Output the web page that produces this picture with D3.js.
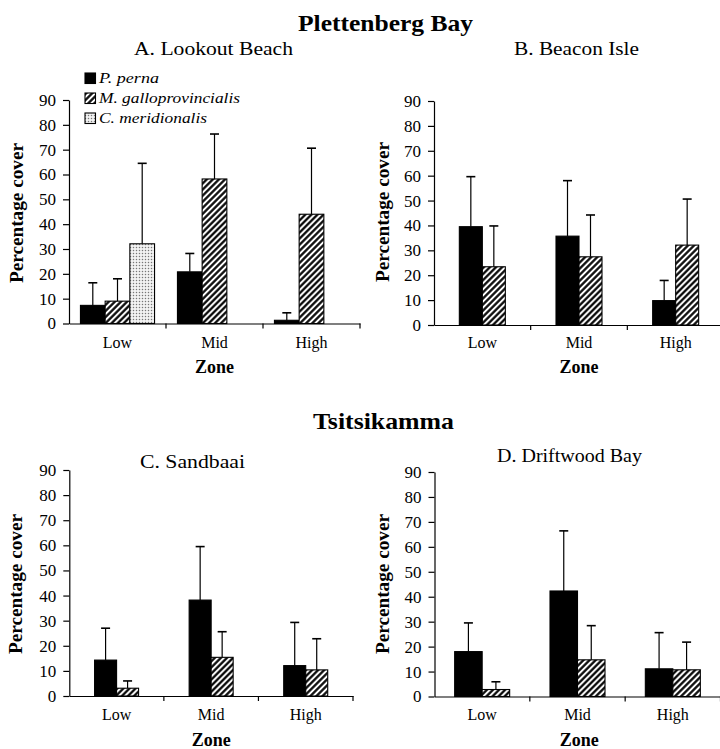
<!DOCTYPE html>
<html><head><meta charset="utf-8">
<script src="https://cdn.jsdelivr.net/npm/d3@7"></script>
<style>
body{margin:0;background:#fff}
svg text{font-family:"Liberation Serif","Times New Roman",serif;fill:#000}
</style>
</head><body><svg id="c" width="720" height="749"></svg>
<script>
// ---------- data ----------
const zones = ["Low", "Mid", "High"];
const species = ["P. perna", "M. galloprovincialis", "C. meridionalis"];
const yTicks = [0, 10, 20, 30, 40, 50, 60, 70, 80, 90];
const regionTitles = ["Plettenberg Bay", "Tsitsikamma"];
const panelTitles = ["A. Lookout Beach", "B. Beacon Isle", "C. Sandbaai", "D. Driftwood Bay"];
const xTitle = "Zone";
const yTitle = "Percentage cover";

// means and (upper) error bars, per zone Low/Mid/High
const lookoutPerna = [7.3, 20.8, 1.3];
const lookoutPernaErr = [9.1, 7.4, 3.0];
const lookoutGallo = [9.0, 58.2, 44.0];
const lookoutGalloErr = [9.0, 18.1, 26.6];
const lookoutMerid = [32.1, 0, 0];
const lookoutMeridErr = [32.4, 0, 0];

const beaconPerna = [39.5, 35.7, 9.8];
const beaconPernaErr = [20.1, 22.3, 8.1];
const beaconGallo = [23.4, 27.4, 32.1];
const beaconGalloErr = [16.4, 16.8, 18.5];

const sandbaaiPerna = [14.3, 38.2, 12.1];
const sandbaaiPernaErr = [12.7, 21.3, 17.2];
const sandbaaiGallo = [3.1, 15.4, 10.4];
const sandbaaiGalloErr = [2.9, 10.2, 12.4];

const driftwoodPerna = [18.0, 42.3, 11.1];
const driftwoodPernaErr = [11.5, 24.1, 14.5];
const driftwoodGallo = [2.8, 14.7, 10.7];
const driftwoodGalloErr = [3.1, 13.7, 11.1];

// ---------- layout ----------
const svg = d3.select("#c");
const defs = svg.append("defs");
const hatch = defs.append("pattern").attr("id", "hatch").attr("patternUnits", "userSpaceOnUse")
  .attr("width", 4.3).attr("height", 4.3).attr("patternTransform", "rotate(45)");
hatch.append("rect").attr("width", 4.3).attr("height", 4.3).attr("fill", "#fff");
hatch.append("line").attr("x1", 2.15).attr("x2", 2.15).attr("y1", 0).attr("y2", 4.3)
  .attr("stroke", "#000").attr("stroke-width", 2.2);
const dots = defs.append("pattern").attr("id", "dots").attr("patternUnits", "userSpaceOnUse")
  .attr("width", 3).attr("height", 3);
dots.append("rect").attr("width", 3).attr("height", 3).attr("fill", "#f2f2f2");
dots.append("circle").attr("cx", 1.5).attr("cy", 1.5).attr("r", 0.75).attr("fill", "#777");

const fills = ["#000", "url(#hatch)", "url(#dots)"];

function fit(sel, w) {
  sel.attr("textLength", w).attr("lengthAdjust", "spacingAndGlyphs");
  return sel;
}

const panels = [
  { title: panelTitles[0], series: [[lookoutPerna, lookoutPernaErr], [lookoutGallo, lookoutGalloErr], [lookoutMerid, lookoutMeridErr]],
    x0: 69, x1: 360, yTop: 100, yBot: 323.5, barW: 24.7, tx: 213.5, ty: 55, tw: 159, ylx: 23, yly: 213, lowY: 348, zoneY: 373 },
  { title: panelTitles[1], series: [[beaconPerna, beaconPernaErr], [beaconGallo, beaconGalloErr]],
    x0: 434, x1: 724, yTop: 101, yBot: 325, barW: 23, tx: 576.5, ty: 55, tw: 125, ylx: 389, yly: 212, lowY: 348, zoneY: 373 },
  { title: panelTitles[2], series: [[sandbaaiPerna, sandbaaiPernaErr], [sandbaaiGallo, sandbaaiGalloErr]],
    x0: 69.3, x1: 353, yTop: 470, yBot: 696, barW: 22, tx: 192.5, ty: 468, tw: 105, ylx: 22, yly: 584, lowY: 720, zoneY: 746 },
  { title: panelTitles[3], series: [[driftwoodPerna, driftwoodPernaErr], [driftwoodGallo, driftwoodGalloErr]],
    x0: 434.5, x1: 720.5, yTop: 472, yBot: 696.5, barW: 27.5, tx: 569.5, ty: 462, tw: 145, ylx: 389, yly: 584, lowY: 720, zoneY: 746 }
];

// region titles
fit(svg.append("text").attr("x", 385.5).attr("y", 31).attr("text-anchor", "middle")
  .style("font-size", "24px").style("font-weight", "bold").text(regionTitles[0]), 175);
fit(svg.append("text").attr("x", 383.5).attr("y", 429).attr("text-anchor", "middle")
  .style("font-size", "24px").style("font-weight", "bold").text(regionTitles[1]), 141);

panels.forEach(p => {
  const g = svg.append("g");
  const x = d3.scaleBand().domain(zones).range([p.x0, p.x1]).padding(0);
  const n = p.series.length;
  const xs = d3.scaleBand().domain(species.slice(0, n)).range([-n * p.barW / 2, n * p.barW / 2]).padding(0);
  const y = d3.scaleLinear().domain([0, 90]).range([p.yBot, p.yTop]);

  // title
  fit(g.append("text").attr("x", p.tx).attr("y", p.ty).attr("text-anchor", "middle")
    .style("font-size", "18.6px").text(p.title), p.tw);

  // bars
  p.series.forEach((s, si) => {
    const name = species[si];
    const rows = zones.map((z, i) => ({ z, v: s[0][i], e: s[1][i] }));
    g.selectAll(null).data(rows).enter().append("rect")
      .attr("x", d => x(d.z) + x.bandwidth() / 2 + xs(name))
      .attr("width", xs.bandwidth())
      .attr("y", d => y(d.v))
      .attr("height", d => y(0) - y(d.v))
      .attr("fill", fills[si]).attr("stroke", "#000").attr("stroke-width", 1.1);
    const eb = rows.filter(d => d.e > 0);
    const cx = d => x(d.z) + x.bandwidth() / 2 + xs(name) + xs.bandwidth() / 2;
    g.selectAll(null).data(eb).enter().append("line")
      .attr("x1", cx).attr("x2", cx)
      .attr("y1", d => y(d.v)).attr("y2", d => y(d.v + d.e))
      .attr("stroke", "#000").attr("stroke-width", 1.2);
    g.selectAll(null).data(eb).enter().append("line")
      .attr("x1", d => cx(d) - 4.5).attr("x2", d => cx(d) + 4.5)
      .attr("y1", d => y(d.v + d.e)).attr("y2", d => y(d.v + d.e))
      .attr("stroke", "#000").attr("stroke-width", 1.6);
  });

  // y axis
  const ya = g.append("g").attr("transform", `translate(${p.x0},0)`)
    .call(d3.axisLeft(y).tickValues(yTicks).tickSize(6).tickPadding(7).tickSizeOuter(0));
  ya.attr("font-family", null).attr("font-size", null);
  ya.selectAll("text").style("font-size", "17px");
  ya.selectAll("line,path").attr("stroke", "#000").attr("stroke-width", 1.2);

  // x axis
  const xa = g.append("g").attr("transform", `translate(0,${p.yBot})`)
    .call(d3.axisBottom(x).tickSize(0).tickPadding(0).tickSizeOuter(0));
  xa.attr("font-family", null).attr("font-size", null);
  xa.select(".domain").attr("stroke", "#000").attr("stroke-width", 1.2);
  xa.selectAll("text").attr("dy", null).attr("y", p.lowY - p.yBot).style("font-size", "16px");
  g.selectAll(null).data(zones).enter().append("line")
    .attr("x1", d => x(d) + x.bandwidth()).attr("x2", d => x(d) + x.bandwidth())
    .attr("y1", p.yBot).attr("y2", p.yBot + 5).attr("stroke", "#000").attr("stroke-width", 1.2);

  // axis titles
  g.append("text").attr("x", (p.x0 + Math.min(p.x1, 720)) / 2 + (p.x1 > 720 ? 2 : 0)).attr("y", p.zoneY)
    .attr("text-anchor", "middle").style("font-size", "18px").style("font-weight", "bold").text(xTitle);
  fit(g.append("text").attr("transform", `translate(${p.ylx},${p.yly}) rotate(-90)`)
    .attr("text-anchor", "middle").style("font-size", "18px").style("font-weight", "bold").text(yTitle), 140);
});

// legend (panel A)
const legendW = [60, 141, 108];
const lg = svg.append("g");
lg.selectAll(null).data(species).enter().append("rect")
  .attr("x", 85).attr("y", (d, i) => 73 + i * 20).attr("width", 10.5).attr("height", 10.5)
  .attr("fill", (d, i) => fills[i]).attr("stroke", "#000").attr("stroke-width", 1.1);
lg.selectAll(null).data(species).enter().append("text")
  .attr("x", 99).attr("y", (d, i) => 83 + i * 20)
  .attr("textLength", (d, i) => legendW[i]).attr("lengthAdjust", "spacingAndGlyphs")
  .style("font-size", "15px").style("font-style", "italic").text(d => d);
</script>
</body></html>
